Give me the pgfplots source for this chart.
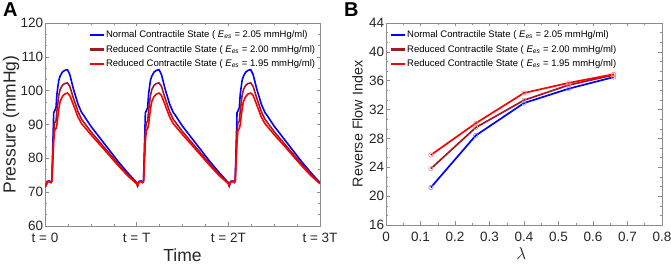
\documentclass[border=0pt]{standalone}
\usepackage{fontspec}
\setmainfont{Liberation Sans}
\usepackage{pgfplots}
\pgfplotsset{compat=1.18}
\usepackage{pgfplotstable}

\definecolor{dred}{RGB}{160,25,35}
\definecolor{axgray}{RGB}{140,140,140}
\definecolor{txt}{RGB}{38,38,38}

\newcommand\Ees{\textit{E}\textsubscript{\textit{es}}}

\pgfplotstableread{
t b d r
0.000 71.6 71.6 71.6
0.012 72.0 72.0 72.0
0.025 73.2 73.1 73.0
0.050 73.3 73.2 73.1
0.065 72.9 72.9 72.9
0.075 73.5 73.3 73.2
0.095 93.5 88.0 85.0
0.105 94.0 90.5 88.2
0.120 95.0 91.0 88.8
0.130 99.0 94.0 90.0
0.150 103.0 98.5 94.5
0.165 104.3 100.3 96.8
0.190 105.5 101.6 98.3
0.215 106.0 102.1 99.0
0.244 106.2 102.3 99.3
0.270 104.8 101.3 98.6
0.310 100.5 97.8 95.8
0.360 96.0 93.8 92.2
0.400 93.5 91.5 90.2
0.420 92.8 90.8 89.6
0.500 89.5 87.9 87.0
0.600 86.0 84.7 84.0
0.700 82.5 81.5 80.9
0.800 79.0 78.3 77.8
0.900 75.8 75.3 74.9
1.000 72.8 72.6 72.5
1.010 71.9 71.9 71.9
1.025 73.2 73.1 73.0
1.050 73.3 73.2 73.1
1.065 72.9 72.9 72.9
1.075 73.5 73.3 73.2
1.095 93.5 88.0 85.0
1.105 94.0 90.5 88.2
1.120 95.0 91.0 88.8
1.130 99.0 94.0 90.0
1.150 103.0 98.5 94.5
1.165 104.3 100.3 96.8
1.190 105.5 101.6 98.3
1.215 106.0 102.1 99.0
1.244 106.2 102.3 99.3
1.270 104.8 101.3 98.6
1.310 100.5 97.8 95.8
1.360 96.0 93.8 92.2
1.400 93.5 91.5 90.2
1.420 92.8 90.8 89.6
1.500 89.5 87.9 87.0
1.600 86.0 84.7 84.0
1.700 82.5 81.5 80.9
1.800 79.0 78.3 77.8
1.900 75.8 75.3 74.9
2.000 72.8 72.6 72.5
2.010 71.9 71.9 71.9
2.025 73.2 73.1 73.0
2.050 73.3 73.2 73.1
2.065 72.9 72.9 72.9
2.075 73.5 73.3 73.2
2.095 93.5 88.0 85.0
2.105 94.0 90.5 88.2
2.120 95.0 91.0 88.8
2.130 99.0 94.0 90.0
2.150 103.0 98.5 94.5
2.165 104.3 100.3 96.8
2.190 105.5 101.6 98.3
2.215 106.0 102.1 99.0
2.244 106.2 102.3 99.3
2.270 104.8 101.3 98.6
2.310 100.5 97.8 95.8
2.360 96.0 93.8 92.2
2.400 93.5 91.5 90.2
2.420 92.8 90.8 89.6
2.500 89.5 87.9 87.0
2.600 86.0 84.7 84.0
2.700 82.5 81.5 80.9
2.800 79.0 78.3 77.8
2.900 75.8 75.3 74.9
3.000 72.8 72.6 72.5
}\tabA

\pgfplotstableread{
x b d r
0.13 21.2 23.8 25.7
0.26 28.4 29.5 30.1
0.40 32.9 33.3 34.3
0.53 34.9 35.4 35.7
0.66 36.5 36.8 36.9
}\tabB

\pgfplotsset{
  common/.style={
    scale only axis,
    anchor=south west,
    tick align=inside, tick pos=both,
    major tick length=3.5pt, minor tick length=2pt,
    axis line style={axgray, line width=0.6pt},
    tick style={axgray, line width=0.5pt},
    tick label style={font=\fontsize{13.5}{13.5}\selectfont, color=txt},
    yticklabel style={inner sep=0.5pt, xshift=-1.2pt},
    xticklabel style={inner sep=0.5pt, yshift=-6.5pt},
    /pgf/number format/assume math mode=true,
    legend cell align=left,
  },
}

\begin{document}
\begin{tikzpicture}[x=1pt,y=1pt]
\useasboundingbox (0,0) rectangle (671,264);

\node[font=\bfseries\fontsize{20}{20}\selectfont, anchor=base west, inner sep=0pt, text=black] at (3,247) {A};
\node[font=\bfseries\fontsize{20}{20}\selectfont, anchor=base west, inner sep=0pt, text=black] at (344,247) {B};

\begin{axis}[common,
  at={(45pt,38pt)}, width=275pt, height=203pt,
  xmin=0, xmax=3, ymin=60, ymax=120,
  xtick={0,1,2,3}, xticklabels={t = 0, t = T, t = 2T, t = 3T},
  minor x tick num=3,
  ytick={60,70,80,90,100,110,120}, minor y tick num=2,
  xlabel={Time}, ylabel={Pressure (mmHg)},
  label style={font=\fontsize{17.5}{17.5}\selectfont, color=txt},
  xlabel style={at={(axis description cs:0.5,-0.145)}, anchor=center},
  ylabel style={at={(axis description cs:-0.1236,0.5)}, anchor=center},
  legend image code/.code={\fill[#1, draw=none] (0pt,-1.15pt) rectangle (14pt,1.15pt);},
  legend style={at={(rel axis cs:0.163,0.972)}, anchor=north west, draw=none, fill=none,
    font=\fontsize{9.5}{11}\selectfont, row sep=2pt, inner sep=0pt},
]
\addplot[color=blue, line width=1.6pt] table[x=t, y=b] {\tabA};
\addlegendentry{Normal Contractile State ( \Ees\ = 2.05 mmHg/ml)}
\addplot[color=dred, line width=1.6pt] table[x=t, y=d] {\tabA};
\addlegendentry{Reduced Contractile State ( \Ees\ = 2.00 mmHg/ml)}
\addplot[color=red, line width=1.6pt] table[x=t, y=r] {\tabA};
\addlegendentry{Reduced Contractile State ( \Ees\ = 1.95 mmHg/ml)}
\end{axis}

\begin{axis}[common,
  at={(386pt,39pt)}, width=276pt, height=202pt,
  xmin=0, xmax=0.8, ymin=16, ymax=44,
  xtick={0,0.1,0.2,0.3,0.4,0.5,0.6,0.7,0.8},
  xticklabels={0,0.1,0.2,0.3,0.4,0.5,0.6,0.7,0.8},
  minor x tick num=1,
  ytick={16,20,24,28,32,36,40,44}, minor y tick num=2,
  xlabel={$\lambda$}, ylabel={Reverse Flow Index},
  ylabel style={font=\fontsize{14.3}{14.3}\selectfont, color=txt, at={(axis description cs:-0.103,0.5)}, anchor=center},
  xlabel style={font=\fontsize{17}{17}\selectfont, color=txt, at={(axis description cs:0.49,-0.139)}, anchor=center},
  legend image code/.code={\fill[#1, draw=none] (0pt,-1.15pt) rectangle (14pt,1.15pt);},
  legend style={at={(rel axis cs:0.018,0.972)}, anchor=north west, draw=none, fill=none,
    font=\fontsize{9.5}{11}\selectfont, row sep=2pt, inner sep=0pt},
]
\addplot[color=blue, line width=1.7pt] table[x=x, y=b] {\tabB};
\addlegendentry{Normal Contractile State ( \Ees\ = 2.05 mmHg/ml)}
\addplot[color=dred, line width=1.7pt] table[x=x, y=d] {\tabB};
\addlegendentry{Reduced Contractile State ( \Ees\ = 2.00 mmHg/ml)}
\addplot[color=red, line width=1.7pt] table[x=x, y=r] {\tabB};
\addlegendentry{Reduced Contractile State ( \Ees\ = 1.95 mmHg/ml)}
\addplot[forget plot, only marks, mark=o, mark size=2.2pt, mark options={draw=blue!45, line width=0.6pt}] table[x=x, y=b] {\tabB};
\addplot[forget plot, only marks, mark=o, mark size=2.2pt, mark options={draw=dred!45, line width=0.6pt}] table[x=x, y=d] {\tabB};
\addplot[forget plot, only marks, mark=o, mark size=2.2pt, mark options={draw=red!45, line width=0.6pt}] table[x=x, y=r] {\tabB};
\end{axis}
\end{tikzpicture}
\end{document}
